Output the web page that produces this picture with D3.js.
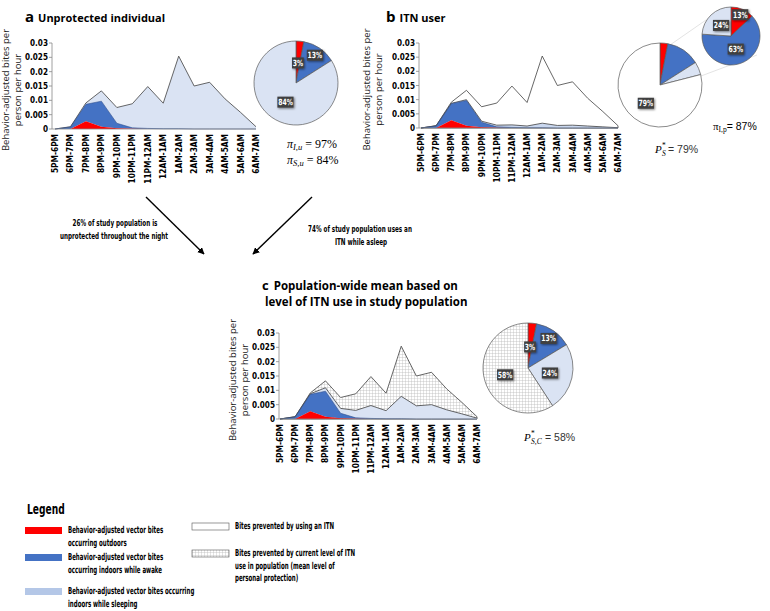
<!DOCTYPE html>
<html>
<head>
<meta charset="utf-8">
<script src="https://cdn.jsdelivr.net/npm/d3@7"></script>
<style>
  body { margin: 0; background: #fff; }
  svg { display: block; }
  .cond { font-family: "Liberation Sans Narrow", "DejaVu Sans Condensed", "Roboto", sans-serif; font-weight: bold; }
  .reg { font-family: "Open Sans", "Noto Sans", sans-serif; }
  .math { font-family: "Liberation Serif", "DejaVu Serif", serif; }
</style>
</head>
<body>
<svg width="770" height="611"></svg>
<script>
const hours = ["5PM-6PM", "6PM-7PM", "7PM-8PM", "8PM-9PM", "9PM-10PM", "10PM-11PM", "11PM-12AM",
  "12AM-1AM", "1AM-2AM", "2AM-3AM", "3AM-4AM", "4AM-5AM", "5AM-6AM", "6AM-7AM"];

// behaviour-adjusted bites per person per hour
const outdoor      = [0, 0, 0.0027, 0.0008, 0.0003, 0.0001, 0, 0, 0, 0, 0, 0, 0, 0];
const indoorAwake  = [0, 0.0007, 0.0059, 0.0089, 0.0017, 0.0003, 0.0002, 0.0001, 0.0001, 0, 0, 0, 0, 0];
const indoorSleep  = [0, 0.0001, 0.0005, 0.0036, 0.0055, 0.0084, 0.0146, 0.0089, 0.0253, 0.0150, 0.0163, 0.0105, 0.0058, 0.0008];
const itnSleep     = [0, 0.0001, 0.0001, 0.0003, 0.0004, 0.0006, 0.0009, 0.0006, 0.0016, 0.0009, 0.0010, 0.0007, 0.0004, 0.0001];
const meanSleep    = [0, 0.0001, 0.0002, 0.0012, 0.0017, 0.0026, 0.0045, 0.0028, 0.0078, 0.0046, 0.0050, 0.0032, 0.0018, 0.0003];
const yTicks = [0, 0.005, 0.01, 0.015, 0.02, 0.025, 0.03];

// pie shares (%)
const pieA = [3, 13, 84];
const pieB = [3, 13, 5, 79];
const pieBZoom = [13, 63, 24];
const pieC = [3, 13, 24, 58];

const RED = "#ff0000", BLUE = "#4472c4", LIGHT = "#dae3f3", LIGHT2 = "#b4c7e7";
const SX = 0.68;   // squeeze for the narrow bold font

const svg = d3.select("svg");
svg.append("rect").attr("width", 770).attr("height", 611).attr("fill", "#fff");

const defs = svg.append("defs");
const hatch = defs.append("pattern").attr("id", "hatch")
  .attr("patternUnits", "userSpaceOnUse").attr("width", 3).attr("height", 3);
hatch.append("rect").attr("width", 3).attr("height", 3).attr("fill", "#fff");
hatch.append("path").attr("d", "M0,0.25H3M0.25,0V3").attr("stroke", "#b8b8b8").attr("stroke-width", 0.5);

defs.append("marker").attr("id", "arrow").attr("viewBox", "0 0 10 10")
  .attr("refX", 9).attr("refY", 5).attr("markerWidth", 5).attr("markerHeight", 5)
  .attr("orient", "auto")
  .append("path").attr("d", "M0,0L10,5L0,10z").attr("fill", "#000");

const shadow = defs.append("filter").attr("id", "shadow").attr("x", "-30%").attr("y", "-30%")
  .attr("width", "160%").attr("height", "160%");
shadow.append("feDropShadow").attr("dx", 1).attr("dy", 1).attr("stdDeviation", 0.8)
  .attr("flood-color", "#000").attr("flood-opacity", 0.5);

// narrow bold text
function ctext(parent, x, y, str, size, anchor, sx, rot) {
  return parent.append("text").attr("class", "cond").attr("font-size", size)
    .attr("text-anchor", anchor || "start")
    .attr("transform", `translate(${x},${y})${rot ? " rotate(" + rot + ")" : ""} scale(${sx || SX},1)`)
    .text(str);
}

const rows = hours.map((h, i) => ({
  hour: h, outdoor: outdoor[i], awake: indoorAwake[i], sleep: indoorSleep[i],
  itn: itnSleep[i], mean: meanSleep[i],
  total: outdoor[i] + indoorAwake[i] + indoorSleep[i]
}));

function panel(p) {
  const x = d3.scalePoint().domain(hours).range([p.x0, p.x1]);
  const y = d3.scaleLinear().domain([0, 0.03]).range([p.yb, p.yt]);
  const g = svg.append("g");

  // y axis
  g.append("line").attr("x1", p.ax).attr("x2", p.ax).attr("y1", p.yt).attr("y2", p.yb)
    .attr("stroke", "#888").attr("stroke-width", 0.8);
  yTicks.forEach(t => {
    g.append("line").attr("x1", p.ax - 3).attr("x2", p.ax).attr("y1", y(t)).attr("y2", y(t))
      .attr("stroke", "#888").attr("stroke-width", 0.8);
    ctext(g, p.ax - 4, y(t) + 3, String(t), 9, "end", 0.9);
  });

  const stack = d3.stack().keys(["outdoor", "awake", p.sleepKey])(rows);
  const area = d3.area().x(d => x(d.data.hour)).y0(d => y(d[0])).y1(d => y(d[1]));
  const top = d3.line().x(d => x(d.data.hour)).y(d => y(d[1]));

  if (p.bg) {
    g.append("path").datum(rows)
      .attr("d", d3.area().x(d => x(d.hour)).y0(y(0)).y1(d => y(d.total)))
      .attr("fill", p.bg).attr("stroke", "#404040").attr("stroke-width", 0.8);
  }
  const fills = [RED, BLUE, p.sleepFill];
  for (let k = 2; k >= 0; k--) {
    g.append("path").datum(stack[k]).attr("d", area).attr("fill", fills[k]);
  }
  g.append("path").datum(stack[2]).attr("d", top).attr("fill", "none")
    .attr("stroke", "#404040").attr("stroke-width", 0.8);
  g.append("path").datum(stack[1]).attr("d", top).attr("fill", "none")
    .attr("stroke", "#2f4f8f").attr("stroke-width", 0.6);

  // x axis
  g.append("line").attr("x1", p.ax).attr("x2", p.x1).attr("y1", p.yb).attr("y2", p.yb)
    .attr("stroke", "#888").attr("stroke-width", 0.8);
  hours.forEach(h => ctext(g, x(h) + 3, p.yb + 5, h, 9, "end", 0.92, -90));

  // y title
  const ty = (p.yt + p.yb) / 2 + 4;
  g.append("text").attr("class", "reg").attr("font-size", 9.5).attr("fill", "#222")
    .attr("text-anchor", "middle")
    .attr("transform", `translate(${p.tx},${ty}) rotate(-90)`).text("Behavior-adjusted bites per");
  g.append("text").attr("class", "reg").attr("font-size", 9.5).attr("fill", "#222")
    .attr("text-anchor", "middle")
    .attr("transform", `translate(${p.tx + 12},${ty}) rotate(-90)`).text("person per hour");
}

function pie(vals, cx, cy, r, fills, labels) {
  const g = svg.append("g").attr("transform", `translate(${cx},${cy})`);
  const arcs = d3.pie().sort(null)(vals);
  const arc = d3.arc().innerRadius(0).outerRadius(r);
  g.selectAll("path").data(arcs).enter().append("path")
    .attr("d", arc).attr("fill", (d, i) => fills[i])
    .attr("stroke", "#595959").attr("stroke-width", 0.7);
  arcs.forEach((d, i) => {
    if (!labels[i]) return;
    const a = (d.startAngle + d.endAngle) / 2, lr = labels[i] * r;
    const lx = Math.sin(a) * lr, ly = -Math.cos(a) * lr;
    const txt = vals[i] + "%";
    const w = txt.length * 4.4 + 3;
    g.append("rect").attr("x", lx - w / 2).attr("y", ly - 5.5).attr("width", w).attr("height", 11)
      .attr("fill", "#404040").attr("filter", "url(#shadow)");
    ctext(g, lx, ly + 3, txt, 8.5, "middle", 0.8).attr("fill", "#fff");
  });
}

function title(x, y, letter, text) {
  const t = svg.append("text").attr("x", x).attr("y", y).attr("class", "reg").attr("font-weight", "bold");
  t.append("tspan").attr("font-size", 15).text(letter);
  t.append("tspan").attr("font-size", 11).attr("dx", 4).text(text);
}

// P with subscript and star, built from separate texts
function pStar(x, y, sub, rest) {
  svg.append("text").attr("class", "math").attr("x", x).attr("y", y).attr("font-size", 11)
    .attr("font-style", "italic").text("P");
  svg.append("text").attr("class", "math").attr("x", x + 7).attr("y", y + 3).attr("font-size", 7.5)
    .attr("font-style", "italic").text(sub);
  svg.append("text").attr("class", "math").attr("x", x + 7).attr("y", y - 5).attr("font-size", 7.5).text("*");
  svg.append("text").attr("x", x + 9 + sub.length * 4).attr("y", y).attr("font-size", 10.5)
    .attr("font-family", "Liberation Sans, sans-serif").attr("fill", "#333").text(rest);
}

// panel a
title(25, 22, "a", "Unprotected individual");
panel({ x0: 55, x1: 256, ax: 52, yt: 43, yb: 129, tx: 9, sleepKey: "sleep", sleepFill: LIGHT });
pie(pieA, 296, 83, 42, [RED, BLUE, LIGHT], [0.48, 0.8, 0.52]);
svg.append("text").attr("class", "math").attr("x", 287).attr("y", 148).attr("font-size", 12)
  .html('<tspan font-style="italic">π</tspan><tspan font-style="italic" font-size="8.5" dy="2">I,u</tspan><tspan dy="-2"> = 97%</tspan>');
svg.append("text").attr("class", "math").attr("x", 287).attr("y", 164).attr("font-size", 12)
  .html('<tspan font-style="italic">π</tspan><tspan font-style="italic" font-size="8.5" dy="2">S,u</tspan><tspan dy="-2"> = 84%</tspan>');

// panel b
title(386, 22, "b", "ITN user");
panel({ x0: 421, x1: 618, ax: 419, yt: 43, yb: 128, tx: 370, sleepKey: "itn", sleepFill: "#c9d7ef", bg: "#fff" });
svg.append("line").attr("x1", 670).attr("y1", 45).attr("x2", 706).attr("y2", 20).attr("stroke", "#d0d0d0").attr("stroke-width", 0.6);
svg.append("line").attr("x1", 701).attr("y1", 76).attr("x2", 757).attr("y2", 55).attr("stroke", "#d0d0d0").attr("stroke-width", 0.6);
pie(pieB, 660, 85, 42, [RED, BLUE, LIGHT, "#fff"], [0, 0, 0, 0.55]);
pie(pieBZoom, 731, 36, 29, [RED, BLUE, LIGHT], [0.8, 0.48, 0.5]);
svg.append("text").attr("class", "math").attr("x", 713).attr("y", 130).attr("font-size", 11)
  .html('<tspan>π</tspan><tspan font-size="7.5" dy="2">I,p</tspan><tspan dy="-2" font-family="Liberation Sans, sans-serif" font-size="10.5">= 87%</tspan>');
pStar(655, 153, "S", " = 79%");

// arrows
svg.append("line").attr("x1", 146).attr("y1", 197).attr("x2", 204).attr("y2", 254)
  .attr("stroke", "#000").attr("stroke-width", 1.4).attr("marker-end", "url(#arrow)");
svg.append("line").attr("x1", 312).attr("y1", 197).attr("x2", 253).attr("y2", 254)
  .attr("stroke", "#000").attr("stroke-width", 1.4).attr("marker-end", "url(#arrow)");
[["26% of study population is", 115, 226], ["unprotected throughout the night", 114, 239],
 ["74% of study population uses an", 360, 232], ["ITN while asleep", 361, 245]].forEach(([t, x, y]) => {
  ctext(svg, x, y, t, 9.5, "middle", 0.66);
});

// panel c
const tc = svg.append("text").attr("class", "reg").attr("font-weight", "bold");
tc.append("tspan").attr("x", 262).attr("y", 290).attr("font-size", 13).text("c");
tc.append("tspan").attr("dx", 5).attr("font-size", 11.5).text("Population-wide mean based on");
tc.append("tspan").attr("x", 265).attr("y", 306).attr("font-size", 11.5).text("level of ITN use in study population");
panel({ x0: 280, x1: 477, ax: 279, yt: 333, yb: 419, tx: 236, sleepKey: "mean", sleepFill: LIGHT, bg: "url(#hatch)" });
pie(pieC, 528, 368, 45, [RED, BLUE, LIGHT, "url(#hatch)"], [0.47, 0.8, 0.5, 0.53]);
pStar(524, 441, "S,C", " = 58%");

// legend
ctext(svg, 27, 514, "Legend", 13.5, "start", 0.75);
const legend = [
  { fill: RED, x: 25, y: 527, lines: ["Behavior-adjusted vector bites", "occurring outdoors"], ty: 533 },
  { fill: BLUE, x: 25, y: 554, lines: ["Behavior-adjusted vector bites", "occurring indoors while awake"], ty: 560 },
  { fill: LIGHT2, x: 25, y: 588, lines: ["Behavior-adjusted vector bites occurring", "indoors while sleeping"], ty: 594 },
  { fill: "#fff", x: 192, y: 523, lines: ["Bites prevented by using an ITN"], ty: 529, stroke: true },
  { fill: "url(#hatch)", x: 192, y: 550, lines: ["Bites prevented by current level of ITN", "use in population (mean level of", "personal protection)"], ty: 556, stroke: true }
];
legend.forEach(l => {
  svg.append("rect").attr("x", l.x).attr("y", l.y).attr("width", 37).attr("height", 7)
    .attr("fill", l.fill).attr("stroke", l.stroke ? "#555" : "none").attr("stroke-width", 0.6);
  l.lines.forEach((t, i) => ctext(svg, l.x + 43, l.ty + i * 12.5, t, 9.5, "start", 0.64));
});
</script>
</body>
</html>
